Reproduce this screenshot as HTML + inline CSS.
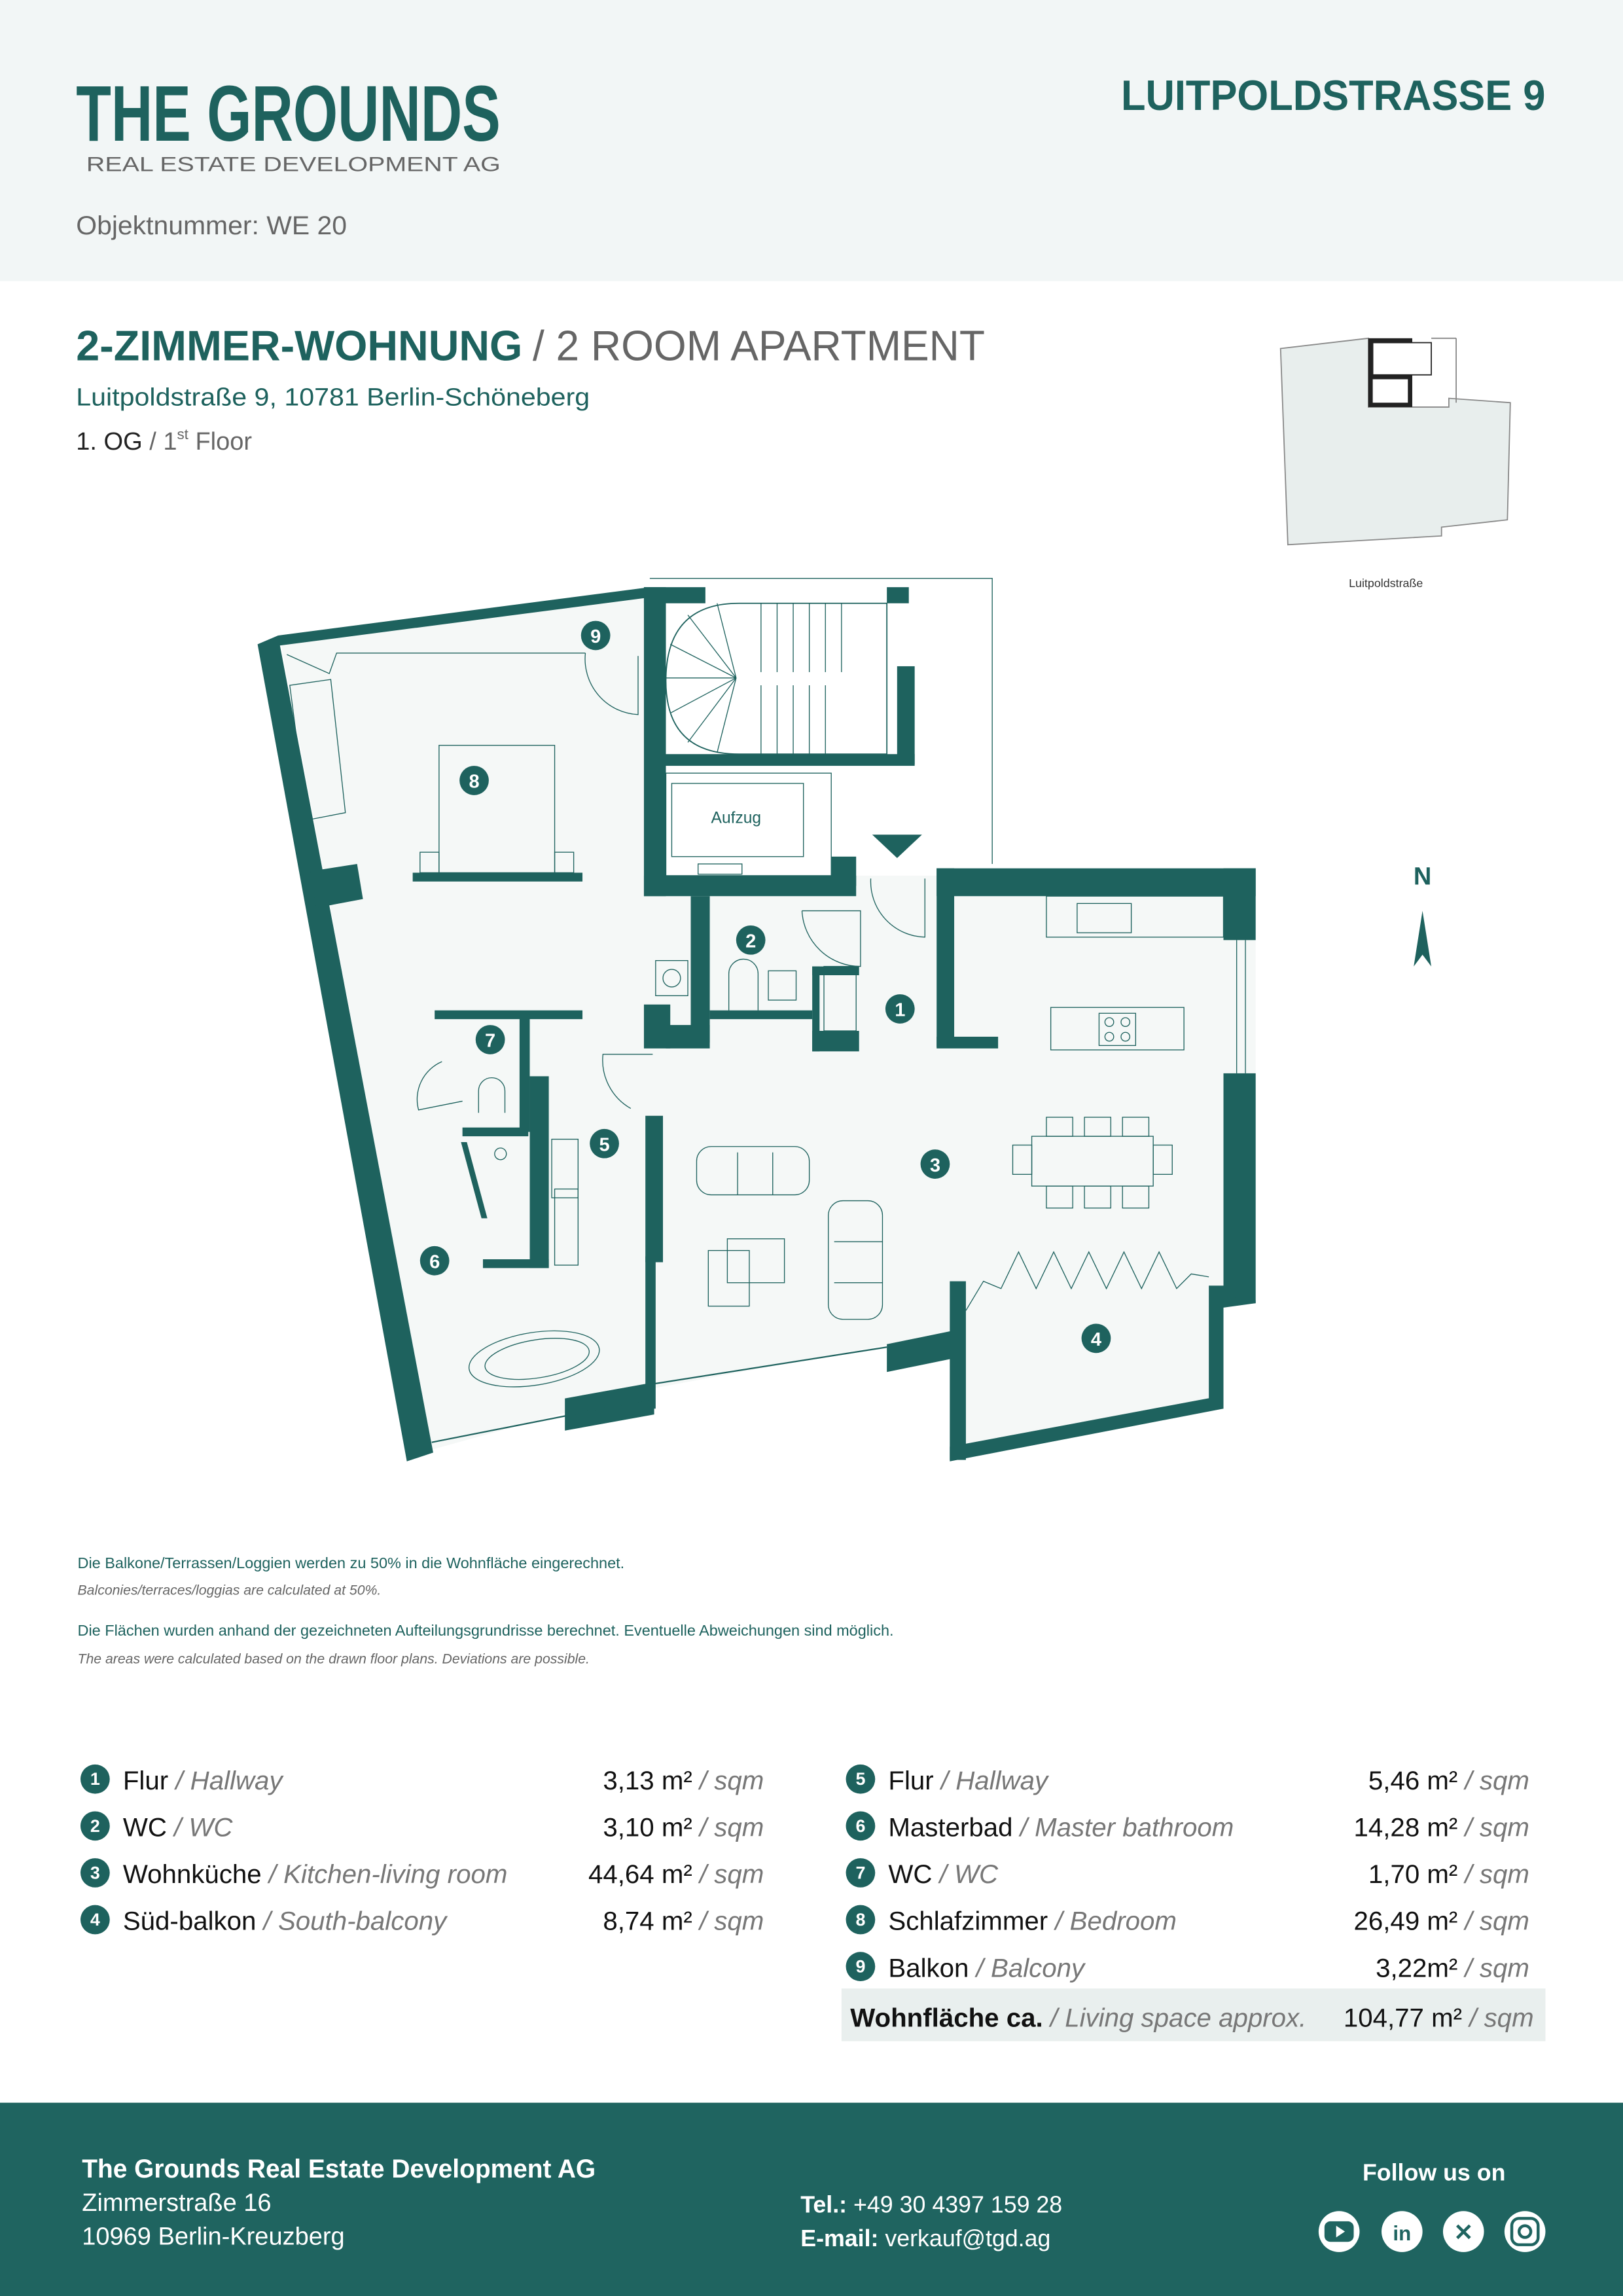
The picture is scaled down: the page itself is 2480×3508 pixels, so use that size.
<!DOCTYPE html>
<html><head><meta charset="utf-8"><style>
html,body{margin:0;padding:0;background:#fff}
svg{display:block}
text{font-family:"Liberation Sans",sans-serif}
</style></head><body>
<svg width="2480" height="3508" viewBox="0 0 1109 1568" preserveAspectRatio="none" xmlns="http://www.w3.org/2000/svg">
<rect x="0" y="0" width="1109" height="192" fill="#f2f6f6"/>
<text x="52" y="96" font-size="54" font-weight="bold" fill="#1e625e" textLength="290" lengthAdjust="spacingAndGlyphs">THE GROUNDS</text>
<text x="59" y="117" font-size="14" fill="#666" textLength="283" lengthAdjust="spacingAndGlyphs">REAL ESTATE DEVELOPMENT AG</text>
<text x="52" y="160" font-size="18" fill="#666" textLength="185" lengthAdjust="spacingAndGlyphs">Objektnummer: WE 20</text>
<text x="766" y="75" font-size="29" font-weight="bold" fill="#1e625e" textLength="290" lengthAdjust="spacingAndGlyphs">LUITPOLDSTRASSE 9</text>

<text x="52" y="246" font-size="29" font-weight="bold" fill="#1e625e" textLength="305" lengthAdjust="spacingAndGlyphs">2-ZIMMER-WOHNUNG</text>
<text x="364" y="246" font-size="29" fill="#666" textLength="309" lengthAdjust="spacingAndGlyphs">/ 2 ROOM APARTMENT</text>
<text x="52" y="277" font-size="17" fill="#1e625e" textLength="351" lengthAdjust="spacingAndGlyphs">Luitpoldstraße 9, 10781 Berlin-Schöneberg</text>
<text x="52" y="307" font-size="17" fill="#222">1. OG <tspan fill="#666">/ 1</tspan><tspan fill="#666" font-size="10" dy="-7">st</tspan><tspan fill="#666" dy="7"> Floor</tspan></text>

<polygon points="875,238 935,231 935,278 990,278 990,272 1032,275 1030,355 985,360 985,366 880,372" fill="#e8eeed" stroke="#888" stroke-width="0.8"/>
<rect x="935" y="231" width="30" height="47" fill="#222"/>
<rect x="938" y="234" width="40" height="22" fill="#fff" stroke="#222" stroke-width="0.8"/>
<rect x="938" y="259" width="24" height="16" fill="#fff"/>
<line x1="978" y1="231" x2="995" y2="231" stroke="#888" stroke-width="0.8"/><line x1="995" y1="231" x2="995" y2="275" stroke="#888" stroke-width="0.8"/>
<text x="947" y="401" font-size="8" fill="#333" text-anchor="middle">Luitpoldstraße</text>

<text x="972" y="604" font-size="17" font-weight="bold" fill="#1e625e" text-anchor="middle">N</text>
<polygon points="966,660 972,622 978,660 972,652" fill="#1e625e"/>

<polygon points="192,440 444,405 444,612 585,612 585,598 858,598 858,890 836,893 836,960 652,993 652,910 447,948 295,990" fill="#f5f8f7"/>
<rect x="444" y="395" width="234" height="200" fill="#fff"/>
<polyline points="444,395 678,395 678,590" fill="none" stroke="#1e625e" stroke-width="0.6"/>
<g fill="#1e625e">
<polygon points="176,440 190,434 296,992 278,998"/>
<polygon points="212,595 244,590 248,614 216,620"/>
<polygon points="190,434 444,401 444,408 190,441"/>
<rect x="440" y="401" width="15" height="211"/>
<rect x="440" y="401" width="42" height="11"/>
<rect x="606" y="401" width="15" height="11"/>
<rect x="613" y="455" width="12" height="67"/>
<rect x="452" y="515" width="173" height="8"/>
<rect x="440" y="598" width="145" height="14"/>
<rect x="568" y="585" width="17" height="20"/>
<rect x="472" y="612" width="13" height="100"/>
<rect x="440" y="686" width="18" height="30"/>
<rect x="455" y="700" width="30" height="16"/>
<rect x="485" y="690" width="70" height="6"/>
<rect x="555" y="660" width="32" height="6"/>
<rect x="555" y="660" width="5" height="58"/>
<rect x="555" y="704" width="32" height="14"/>
<rect x="640" y="593" width="218" height="19"/>
<rect x="836" y="593" width="22" height="49"/>
<rect x="836" y="733" width="22" height="157"/>
<polygon points="836,885 858,888 858,890 836,893"/>
<rect x="640" y="593" width="12" height="122"/>
<rect x="640" y="708" width="42" height="8"/>
<rect x="649" y="875" width="11" height="122"/>
<polygon points="649,988 836,953 836,962 649,998"/>
<rect x="826" y="878" width="10" height="84"/>
<rect x="297" y="690" width="101" height="6"/>
<rect x="355" y="693" width="7" height="80"/>
<rect x="362" y="735" width="13" height="131"/>
<rect x="316" y="770" width="45" height="6"/>
<rect x="330" y="860" width="45" height="6"/>
<polygon points="315,780 319,780 333,832 329,832"/>
<rect x="441" y="762" width="12" height="100"/>
<rect x="441" y="858" width="7" height="104"/>
<polygon points="386,955 447,944 447,966 386,977"/>
<polygon points="606,918 650,909 650,928 606,937"/>
<rect x="282" y="596" width="116" height="6"/>
<rect x="503" y="459" width="67" height="9"/>
<polygon points="596,570 630,570 613,586"/>
</g>
<line x1="295" y1="985" x2="447" y2="955" stroke="#1e625e" stroke-width="1"/>
<line x1="447" y1="945" x2="606" y2="920" stroke="#1e625e" stroke-width="1"/>
<path d="M505,412 L606,412 L606,515 L505,515 Q455,515 455,465 Q455,412 505,412 Z" fill="#fff" stroke="#1e625e" stroke-width="0.8"/>
<g stroke="#1e625e" stroke-width="0.6">
<line x1="520" y1="412" x2="520" y2="459"/><line x1="531" y1="412" x2="531" y2="459"/><line x1="542" y1="412" x2="542" y2="459"/><line x1="553" y1="412" x2="553" y2="459"/><line x1="564" y1="412" x2="564" y2="459"/><line x1="575" y1="412" x2="575" y2="459"/>
<line x1="520" y1="468" x2="520" y2="515"/><line x1="531" y1="468" x2="531" y2="515"/><line x1="542" y1="468" x2="542" y2="515"/><line x1="553" y1="468" x2="553" y2="515"/><line x1="564" y1="468" x2="564" y2="515"/>
<line x1="503" y1="463" x2="470" y2="420"/><line x1="503" y1="463" x2="458" y2="440"/><line x1="503" y1="463" x2="455" y2="463"/><line x1="503" y1="463" x2="458" y2="487"/><line x1="503" y1="463" x2="470" y2="507"/><line x1="503" y1="463" x2="490" y2="514"/><line x1="503" y1="463" x2="490" y2="412"/>
<line x1="606" y1="412" x2="606" y2="455"/>
</g>
<rect x="455" y="528" width="113" height="70" fill="#fff" stroke="#1e625e" stroke-width="0.6"/>
<rect x="459" y="535" width="90" height="50" fill="none" stroke="#1e625e" stroke-width="0.6"/>
<rect x="477" y="590" width="30" height="7" fill="none" stroke="#1e625e" stroke-width="0.6"/>
<text x="503" y="562" font-size="11" fill="#1e625e" text-anchor="middle">Aufzug</text>

<g fill="none" stroke="#1e625e" stroke-width="0.6">
<rect x="300" y="509" width="79" height="87"/>
<rect x="287" y="582" width="13" height="14"/><rect x="379" y="582" width="13" height="14"/>
<polygon points="198,468 226,464 236,555 210,560"/>
<path d="M196,447 L225,460 L230,446 L400,446"/>
<path d="M400,446 A38,38 0 0 0 436,488 L436,448"/>
<path d="M431,757 A38,38 0 0 1 412,720 L446,720"/>
<path d="M548,622 A40,40 0 0 0 588,660 L588,622 L548,622"/>
<path d="M595,600 A38,38 0 0 0 632,640 L632,600"/>
<path d="M302,725 A28,28 0 0 0 286,758 L316,752"/>
<rect x="448" y="656" width="22" height="24"/><circle cx="459" cy="668" r="6"/>
<path d="M498,690 L498,665 A10,10 0 0 1 518,665 L518,690"/>
<rect x="525" y="663" width="19" height="20"/>
<rect x="563" y="660" width="22" height="44"/>
<path d="M327,760 L327,745 A9,9 0 0 1 345,745 L345,760"/>
<circle cx="342" cy="788" r="4"/>
<rect x="377" y="778" width="18" height="40"/><rect x="379" y="812" width="16" height="52"/>
<rect x="476" y="783" width="77" height="33" rx="10"/><line x1="504" y1="787" x2="504" y2="816"/><line x1="528" y1="787" x2="528" y2="816"/>
<rect x="566" y="820" width="37" height="81" rx="10"/><line x1="570" y1="848" x2="603" y2="848"/><line x1="570" y1="876" x2="603" y2="876"/>
<rect x="484" y="854" width="28" height="38"/><rect x="497" y="846" width="39" height="30"/>
<rect x="705" y="776" width="83" height="34"/>
<rect x="715" y="763" width="18" height="13"/><rect x="741" y="763" width="18" height="13"/><rect x="767" y="763" width="18" height="13"/>
<rect x="715" y="810" width="18" height="15"/><rect x="741" y="810" width="18" height="15"/><rect x="767" y="810" width="18" height="15"/>
<rect x="692" y="782" width="13" height="20"/><rect x="788" y="782" width="13" height="20"/>
<rect x="715" y="612" width="121" height="28"/><rect x="736" y="617" width="37" height="20"/>
<rect x="718" y="688" width="91" height="29"/><rect x="751" y="692" width="25" height="22"/>
<circle cx="758" cy="698" r="3"/><circle cx="769" cy="698" r="3"/><circle cx="758" cy="708" r="3"/><circle cx="769" cy="708" r="3"/>
<line x1="845" y1="642" x2="845" y2="733"/><line x1="851" y1="642" x2="851" y2="733"/>
<polyline points="660,895 672,875 684,880 696,855 708,880 720,855 732,880 744,855 756,880 768,855 780,880 792,855 804,880 814,870 826,872"/>
<ellipse cx="365" cy="928" rx="45" ry="18" transform="rotate(-9 365 928)"/>
<ellipse cx="367" cy="928" rx="36" ry="13" transform="rotate(-9 367 928)"/>
</g>

<g fill="#1e625e">
<circle cx="615" cy="689" r="10"/><circle cx="513" cy="642" r="10"/><circle cx="639" cy="795" r="10"/><circle cx="749" cy="914" r="10"/><circle cx="413" cy="781" r="10"/><circle cx="297" cy="861" r="10"/><circle cx="335" cy="710" r="10"/><circle cx="324" cy="533" r="10"/><circle cx="407" cy="434" r="10"/>
</g>
<g fill="#fff" font-size="13" font-weight="bold" text-anchor="middle">
<text x="615" y="694">1</text><text x="513" y="647">2</text><text x="639" y="800">3</text><text x="749" y="919">4</text><text x="413" y="786">5</text><text x="297" y="866">6</text><text x="335" y="715">7</text><text x="324" y="538">8</text><text x="407" y="439">9</text>
</g>

<text x="53" y="1071" font-size="10.5" fill="#1e625e">Die Balkone/Terrassen/Loggien werden  zu 50% in die Wohnfläche eingerechnet.</text>
<text x="53" y="1089" font-size="9.5" fill="#666" font-style="italic">Balconies/terraces/loggias are calculated at 50%.</text>
<text x="53" y="1117" font-size="10.5" fill="#1e625e">Die Flächen wurden anhand der gezeichneten Aufteilungsgrundrisse berechnet. Eventuelle Abweichungen sind möglich.</text>
<text x="53" y="1136" font-size="9.5" fill="#666" font-style="italic">The areas were calculated based on the drawn floor plans. Deviations are possible.</text>

<rect x="575" y="1358" width="481" height="36" fill="#e9efee"/>
<g fill="#1e625e">
<circle cx="65" cy="1215" r="10"/><circle cx="65" cy="1247" r="10"/><circle cx="65" cy="1279" r="10"/><circle cx="65" cy="1311" r="10"/>
<circle cx="588" cy="1215" r="10"/><circle cx="588" cy="1247" r="10"/><circle cx="588" cy="1279" r="10"/><circle cx="588" cy="1311" r="10"/><circle cx="588" cy="1343" r="10"/>
</g>
<g fill="#fff" font-size="12" font-weight="bold" text-anchor="middle">
<text x="65" y="1219">1</text><text x="65" y="1251">2</text><text x="65" y="1283">3</text><text x="65" y="1315">4</text>
<text x="588" y="1219">5</text><text x="588" y="1251">6</text><text x="588" y="1283">7</text><text x="588" y="1315">8</text><text x="588" y="1347">9</text>
</g>
<g font-size="18" fill="#111">
<text x="84" y="1222">Flur <tspan fill="#777" font-style="italic">/ Hallway</tspan></text>
<text x="84" y="1254">WC <tspan fill="#777" font-style="italic">/ WC</tspan></text>
<text x="84" y="1286">Wohnküche <tspan fill="#777" font-style="italic">/ Kitchen-living room</tspan></text>
<text x="84" y="1318">Süd-balkon <tspan fill="#777" font-style="italic">/ South-balcony</tspan></text>
<text x="607" y="1222">Flur <tspan fill="#777" font-style="italic">/ Hallway</tspan></text>
<text x="607" y="1254">Masterbad <tspan fill="#777" font-style="italic">/ Master bathroom</tspan></text>
<text x="607" y="1286">WC <tspan fill="#777" font-style="italic">/ WC</tspan></text>
<text x="607" y="1318">Schlafzimmer <tspan fill="#777" font-style="italic">/ Bedroom</tspan></text>
<text x="607" y="1350">Balkon <tspan fill="#777" font-style="italic">/ Balcony</tspan></text>
<text x="581" y="1384"><tspan font-weight="bold">Wohnfläche ca.</tspan> <tspan fill="#777" font-style="italic">/ Living space approx.</tspan></text>
</g>
<g font-size="18" fill="#111" text-anchor="end">
<text x="522" y="1222">3,13 m² <tspan fill="#777" font-style="italic">/ sqm</tspan></text>
<text x="522" y="1254">3,10 m² <tspan fill="#777" font-style="italic">/ sqm</tspan></text>
<text x="522" y="1286">44,64 m² <tspan fill="#777" font-style="italic">/ sqm</tspan></text>
<text x="522" y="1318">8,74 m² <tspan fill="#777" font-style="italic">/ sqm</tspan></text>
<text x="1045" y="1222">5,46 m² <tspan fill="#777" font-style="italic">/ sqm</tspan></text>
<text x="1045" y="1254">14,28 m² <tspan fill="#777" font-style="italic">/ sqm</tspan></text>
<text x="1045" y="1286">1,70 m² <tspan fill="#777" font-style="italic">/ sqm</tspan></text>
<text x="1045" y="1318">26,49 m² <tspan fill="#777" font-style="italic">/ sqm</tspan></text>
<text x="1045" y="1350">3,22m² <tspan fill="#777" font-style="italic">/ sqm</tspan></text>
<text x="1048" y="1384">104,77 m² <tspan fill="#777" font-style="italic">/ sqm</tspan></text>
</g>

<rect x="0" y="1436" width="1109" height="132" fill="#1f6460"/>
<g fill="#fff">
<text x="56" y="1487" font-size="18" font-weight="bold" textLength="351" lengthAdjust="spacingAndGlyphs">The Grounds Real Estate Development AG</text>
<text x="56" y="1510" font-size="17">Zimmerstraße 16</text>
<text x="56" y="1533" font-size="17">10969 Berlin-Kreuzberg</text>
<text x="547" y="1511" font-size="16"><tspan font-weight="bold">Tel.:</tspan> +49 30 4397 159 28</text>
<text x="547" y="1534" font-size="16"><tspan font-weight="bold">E-mail:</tspan> verkauf@tgd.ag</text>
<text x="931" y="1489" font-size="16" font-weight="bold">Follow us on</text>
<circle cx="915" cy="1524" r="14"/><circle cx="958" cy="1524" r="14"/><circle cx="1000" cy="1524" r="14"/><circle cx="1042" cy="1524" r="14"/>
</g>
<g fill="#1f6460">
<rect x="905" y="1517" width="20" height="14" rx="4"/>
<text x="958" y="1530" font-size="14" font-weight="bold" text-anchor="middle">in</text>
<text x="1000" y="1530" font-size="16" font-weight="bold" text-anchor="middle">✕</text>
<rect x="1033" y="1515" width="18" height="18" rx="5" fill="none" stroke="#1f6460" stroke-width="2"/>
<circle cx="1042" cy="1524" r="4" fill="none" stroke="#1f6460" stroke-width="2"/>
</g>
<polygon points="913,1520 913,1528 919,1524" fill="#fff"/>
</svg>
</body></html>
